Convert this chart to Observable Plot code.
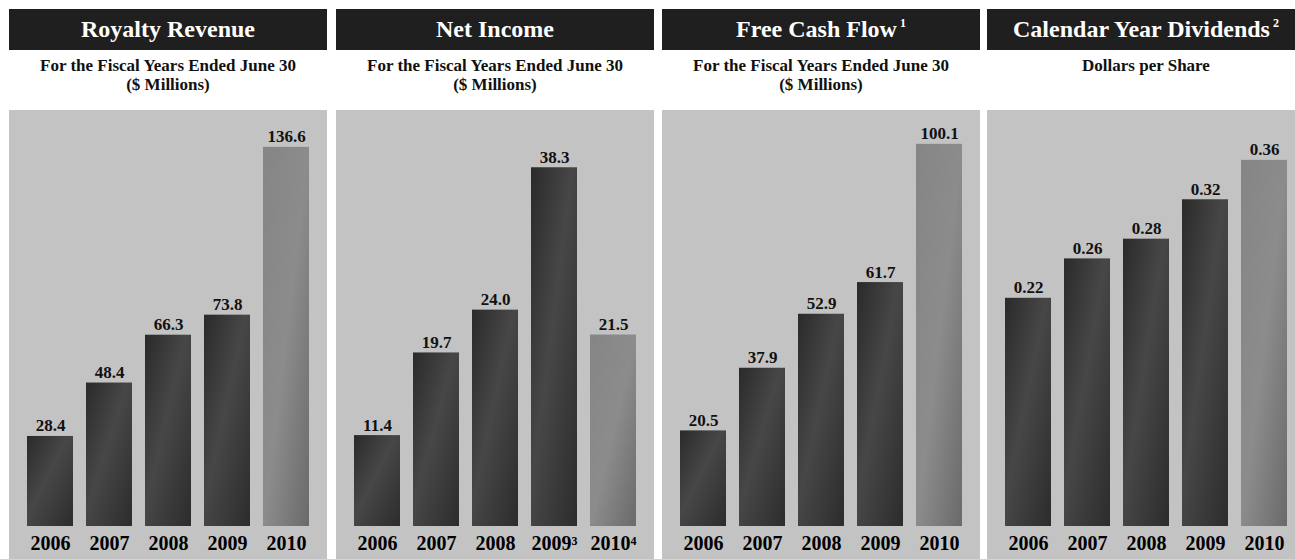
<!DOCTYPE html>
<html><head><meta charset="utf-8">
<script src="https://cdn.jsdelivr.net/npm/d3@7"></script>
<script src="https://cdn.jsdelivr.net/npm/@observablehq/plot@0.6"></script>
<style>
html,body{margin:0;padding:0;background:#fff;width:1295px;height:559px;overflow:hidden;font-family:"Liberation Serif",serif;}
.panel{position:absolute;top:0;width:318px;height:559px;}
.title{position:absolute;top:9px;left:0;width:318px;height:41px;background:#1f1f1f;color:#fff;font-size:24px;font-weight:bold;text-align:center;line-height:41px;white-space:nowrap;}
.title sup{font-size:12px;vertical-align:0;position:relative;top:-10px;margin-left:3px;}
.sub{position:absolute;top:56px;left:0;width:318px;text-align:center;font-size:17px;font-weight:bold;line-height:19px;color:#111;}
.chart{position:absolute;top:110px;left:0;}
</style></head><body><div id="root"></div>
<script>
const years = [2006, 2007, 2008, 2009, 2010];
const yearLabels = ["2006", "2007", "2008", "2009", "2010"];
const netIncomeYearLabels = ["2006", "2007", "2008", "2009³", "2010⁴"];
const royaltyRevenue = [28.4, 48.4, 66.3, 73.8, 136.6];
const netIncome = [11.4, 19.7, 24.0, 38.3, 21.5];
const freeCashFlow = [20.5, 37.9, 52.9, 61.7, 100.1];
const dividends = [0.22, 0.26, 0.28, 0.32, 0.36];
const titles = ["Royalty Revenue", "Net Income", "Free Cash Flow", "Calendar Year Dividends"];
const titleNotes = ["", "", "1", "2"];
const subtitles = [
  ["For the Fiscal Years Ended June 30", "($ Millions)"],
  ["For the Fiscal Years Ended June 30", "($ Millions)"],
  ["For the Fiscal Years Ended June 30", "($ Millions)"],
  ["Dollars per Share"]
];

const panels = [
  {values: royaltyRevenue, labels: yearLabels, fmt: d3.format(".1f"), domain: [-5.3, 150.4], left: 9},
  {values: netIncome, labels: netIncomeYearLabels, fmt: d3.format(".1f"), domain: [2.27, 44.05], left: 336},
  {values: freeCashFlow, labels: yearLabels, fmt: d3.format(".1f"), domain: [-6.06, 109.5], left: 662},
  {values: dividends, labels: yearLabels, fmt: d3.format(".2f"), domain: [-0.0116, 0.4106], left: 987}
];

function defsMark(gid) {
  return () => {
    const defs = d3.create("svg:defs");
    const gd = defs.append("linearGradient").attr("id", gid + "d")
      .attr("x1", 0).attr("y1", 0).attr("x2", 1).attr("y2", 1);
    gd.append("stop").attr("offset", 0).attr("stop-color", "#2a2a2a");
    gd.append("stop").attr("offset", 0.45).attr("stop-color", "#474747");
    gd.append("stop").attr("offset", 1).attr("stop-color", "#2c2c2c");
    const gl = defs.append("linearGradient").attr("id", gid + "l")
      .attr("x1", 0).attr("y1", 0).attr("x2", 1).attr("y2", 1);
    gl.append("stop").attr("offset", 0).attr("stop-color", "#858585");
    gl.append("stop").attr("offset", 0.5).attr("stop-color", "#8c8c8c");
    gl.append("stop").attr("offset", 1).attr("stop-color", "#6a6a6a");
    return defs.node();
  };
}

const root = document.getElementById("root");
panels.forEach((p, k) => {
  const gid = "g" + k;
  const data = years.map((year, i) => ({year, value: p.values[i]}));
  const dark = data.filter(d => d.year !== 2010);
  const light = data.filter(d => d.year === 2010);
  const chart = Plot.plot({
    width: 318, height: 449,
    marginLeft: 5, marginRight: 5, marginTop: 0, marginBottom: 33,
    style: {background: "#c3c3c3", fontFamily: "Liberation Serif", fontSize: "20px", fontWeight: "bold", color: "#000", overflow: "visible"},
    x: {domain: years, padding: 0.22, tickSize: 0, tickPadding: 9, tickFormat: y => p.labels[years.indexOf(y)], label: null},
    y: {domain: p.domain, axis: null},
    marks: [
      defsMark(gid),
      Plot.barY(dark, {x: "year", y1: p.domain[0], y2: "value", fill: `url(#${gid}d)`}),
      Plot.barY(light, {x: "year", y1: p.domain[0], y2: "value", fill: `url(#${gid}l)`}),
      Plot.text(data, {x: "year", y: "value", text: d => p.fmt(d.value), dy: -5, lineAnchor: "bottom", fontSize: 17, fontWeight: "bold", fill: "#111"})
    ]
  });
  const div = document.createElement("div");
  div.className = "panel";
  div.style.left = p.left + "px";
  const t = document.createElement("div");
  t.className = "title";
  t.textContent = titles[k];
  if (titleNotes[k]) {
    const s = document.createElement("sup");
    s.textContent = titleNotes[k];
    t.appendChild(s);
  }
  const sub = document.createElement("div");
  sub.className = "sub";
  sub.innerHTML = subtitles[k].map(s => s.replace(/&/g, "&amp;")).join("<br>");
  const c = document.createElement("div");
  c.className = "chart";
  c.appendChild(chart);
  div.append(t, sub, c);
  root.appendChild(div);
});
</script>
</body></html>
